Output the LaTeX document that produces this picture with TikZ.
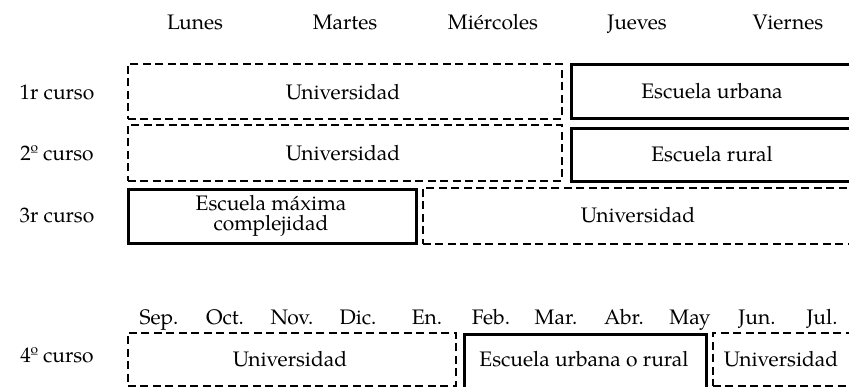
\documentclass[tikz,border=0pt]{standalone}
\usepackage{fontspec}
\setmainfont{TeX Gyre Pagella}
\begin{document}
\begin{tikzpicture}[x=1pt,y=-1pt,
  every node/.style={font=\fontsize{21}{24}\selectfont, inner sep=0pt},
  unibox/.style={draw, dashed, dash pattern=on 8pt off 4.5pt, line width=1.7pt, anchor=north west},
  schoolbox/.style={draw, line width=2.8pt, anchor=north west},
  lbl/.style={anchor=base}]
\useasboundingbox (0,0) rectangle (849,386);
\clip (0,0) rectangle (849,386);
% day headers
\node[lbl] (lun) at (195,29) {Lunes};
\node[lbl] (mar) at (345,29) {Martes};
\node[lbl] (mie) at (493,29) {Miércoles};
\node[lbl] (jue) at (637,29) {Jueves};
\node[lbl] (vie) at (788,29) {Viernes};
% row labels
\node[lbl] (c1) at (57,99) {1r curso};
\node[lbl] (c2) at (57,160) {2º curso};
\node[lbl] (c3) at (57,222) {3r curso};
\node[lbl] (c4) at (57,362) {4º curso};
% row 1
\node[unibox, minimum width=434pt, minimum height=55pt] (u1) at (127,63) {};
\node[lbl] (u1t) at (343,99) {Universidad};
\node[schoolbox, minimum width=286pt, minimum height=54pt] (s1) at (570,63) {};
\node[lbl] (s1t) at (712,98) {Escuela urbana};
% row 2
\node[unibox, minimum width=434pt, minimum height=56pt] (u2) at (127,124) {};
\node[lbl] (u2t) at (343,160) {Universidad};
\node[schoolbox, minimum width=286pt, minimum height=53pt] (s2) at (570,127) {};
\node[lbl] (s2t) at (712,161) {Escuela rural};
% row 3
\node[schoolbox, minimum width=288pt, minimum height=54pt] (s3) at (127,188) {};
\node[align=center, font=\fontsize{21}{20}\selectfont, anchor=center] (s3t) at (271,216) {Escuela máxima\\complejidad};
\node[unibox, minimum width=434pt, minimum height=56pt] (u3) at (422,187) {};
\node[lbl] (u3t) at (638,222) {Universidad};
% months
\node[lbl] (sep) at (159,324) {Sep.};
\node[lbl] (oct) at (225,324) {Oct.};
\node[lbl] (nov) at (292,324) {Nov.};
\node[lbl] (dic) at (358,324) {Dic.};
\node[lbl] (ene) at (427,324) {En.};
\node[lbl] (feb) at (491,324) {Feb.};
\node[lbl] (mzo) at (556,324) {Mar.};
\node[lbl] (abr) at (624,324) {Abr.};
\node[lbl] (may) at (690,324) {May};
\node[lbl] (jun) at (757,324) {Jun.};
\node[lbl] (jul) at (822,324) {Jul.};
% row 4
\node[unibox, minimum width=328pt, minimum height=53pt] (u4a) at (127,332) {};
\node[lbl] (u4at) at (290,366) {Universidad};
\node[schoolbox, minimum width=242pt, minimum height=60pt] (s4) at (463,333) {};
\node[lbl] (s4t) at (584,366) {Escuela urbana o rural};
\node[unibox, minimum width=144pt, minimum height=53pt] (u4b) at (712,332) {};
\node[lbl] (u4bt) at (781,366) {Universidad};
\end{tikzpicture}
\end{document}
